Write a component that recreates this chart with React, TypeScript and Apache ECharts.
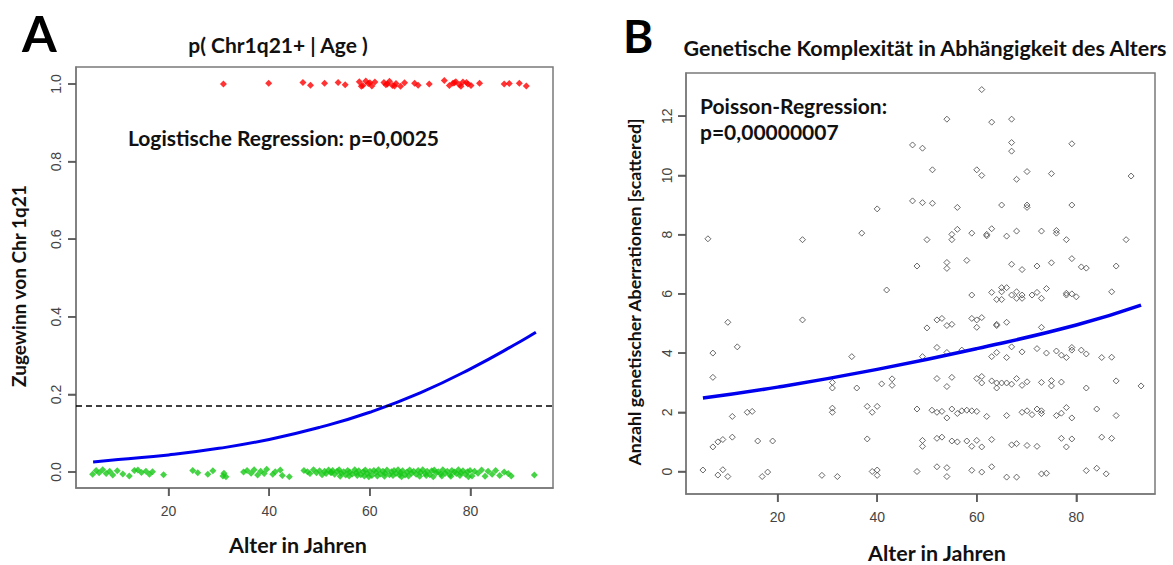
import React, { useEffect, useRef } from "react";
import * as echarts from "echarts";

// ---- Panel A data ----
const xTicks = [20, 40, 60, 80];
const yTicksA = [0, 0.2, 0.4, 0.6, 0.8, 1.0];
const yTicksB = [0, 2, 4, 6, 8, 10, 12];

const redAges = [30.9, 39.9, 46.7, 48.2, 51.0, 53.7, 55.1, 57.9, 58.6, 59.2, 59.7, 60.4, 61.0, 58.3, 60.0,
  62.8, 63.2, 63.9, 64.5, 65.2, 66.1, 66.9, 63.5, 64.9, 68.9, 69.6, 71.8, 74.8, 75.8, 76.5, 77.1, 77.8,
  78.5, 79.5, 80.1, 76.8, 78.1, 79.2, 81.8, 86.7, 87.7, 89.7, 91.1];
const redJitter = [0.0, 0.002, 0.004, -0.003, 0.002, 0.004, -0.002, 0.006, -0.004, 0.008, 0.001, -0.005, 0.005,
  -0.006, 0.003, 0.004, -0.002, 0.007, -0.004, 0.001, -0.006, 0.003, 0.0, -0.005, 0.002, -0.003, 0.0, 0.009,
  -0.004, 0.002, 0.006, -0.002, 0.005, 0.0, -0.004, 0.003, -0.006, 0.004, 0.002, 0.0, 0.001, 0.002, -0.005];

const greenAges = [4.9, 5.6, 6.2, 6.9, 7.6, 8.3, 8.9, 9.8, 10.9, 12.2, 13.2, 13.9, 14.6, 15.5, 16.2, 16.8, 19.0,
  24.8, 25.8, 27.8, 28.8, 30.8, 31.0, 31.4,
  34.9, 35.6, 36.4, 37.0, 37.7, 38.3, 39.0, 39.5, 40.7, 41.2, 42.2, 42.6, 44.0,
  46.9, 47.6, 48.1, 48.8, 49.4, 50.0, 50.5, 51.0, 51.3, 51.8, 52.2, 52.6, 53.0, 53.5, 53.9, 54.3, 54.8, 55.2,
  55.6, 56.0, 56.5, 57.0, 57.3, 57.8, 58.2, 58.7, 59.1, 59.5, 60.0, 60.4, 60.8, 61.2, 61.7, 62.1, 62.6, 63.0,
  63.4, 63.9, 64.3, 64.8, 65.2, 65.6, 66.1, 66.5, 67.0, 67.4, 67.9, 68.3, 68.7, 69.2, 69.6, 70.1, 70.5, 71.0,
  71.4, 71.9, 72.3, 72.8, 73.2, 73.6, 74.1, 74.5, 75.0, 75.4, 75.9, 76.3, 76.8, 77.2, 77.6, 78.1, 78.5, 79.0,
  79.4, 79.9, 80.3, 80.8, 81.5, 82.2, 82.9, 83.5, 84.3, 85.0, 85.8, 86.7, 87.5, 88.1, 92.7,
  52.4, 54.1, 55.9, 57.5, 59.8, 61.5, 62.9, 64.6, 66.3, 67.7, 69.9, 71.2, 72.6, 74.3, 76.1, 77.9, 79.6, 58.9, 65.9, 70.8];
const greenJitter = [-0.006, 0.004, -0.002, 0.006, -0.004, 0.002, -0.008, 0.003, -0.005, -0.010, 0.004, 0.005, -0.001,
  0.002, -0.006, 0.001, -0.007, 0.004, -0.002, -0.006, 0.003, -0.010, -0.003, -0.012, 0.0, 0.004, -0.003, 0.006,
  -0.008, 0.002, -0.004, 0.007, -0.006, 0.001, 0.005, -0.009, -0.012, 0.004, 0.001, -0.004, 0.006, -0.002, 0.003,
  -0.007, 0.002, -0.004, 0.005, -0.001, 0.004, -0.006, 0.002, 0.006, -0.003, 0.001, -0.008, 0.004, 0.0, -0.005,
  0.006, -0.002, 0.003, -0.007, 0.001, 0.005, -0.004, 0.002, -0.009, 0.004, -0.001, 0.006, -0.005, 0.002, -0.003,
  0.005, -0.007, 0.001, 0.004, -0.004, 0.006, -0.002, 0.003, -0.008, 0.0, 0.005, -0.003, 0.002, -0.006, 0.004,
  -0.001, 0.006, -0.004, 0.002, -0.007, 0.003, 0.005, -0.002, 0.001, -0.005, 0.006, -0.003, 0.002, -0.008, 0.004,
  0.0, -0.004, 0.006, -0.002, 0.003, -0.006, 0.001, 0.004, -0.010, 0.002, -0.003, 0.005, -0.011, 0.002, -0.006,
  0.004, -0.009, 0.0, -0.004, -0.010, -0.008, -0.001, -0.011, -0.010, -0.009, -0.012, -0.010, -0.011, -0.009,
  -0.012, -0.010, -0.011, -0.009, -0.012, -0.010, -0.011, -0.009, -0.012, -0.010, -0.008];

const logitAges = [5, 10, 20, 30, 40, 50, 60, 70, 80, 90, 93];
const logitP = [0.026, 0.032, 0.044, 0.061, 0.084, 0.115, 0.154, 0.204, 0.266, 0.337, 0.36];
const threshold = 0.17;

// ---- Panel B data ----
const poissonAges = [5, 20, 40, 60, 80, 93];
const poissonFit = [2.48, 2.85, 3.45, 4.15, 4.95, 5.62];

const complexityPoints: [number, number][] = [
  [61.0, 12.9], [54.0, 11.9], [63.0, 11.8], [67.0, 11.9], [47.1, 11.03], [49.1, 10.92], [67.0, 11.11], [67.0, 10.82],
  [79.1, 11.07], [51.1, 10.19], [60.0, 10.19], [61.0, 10.0], [68.0, 9.87], [70.1, 10.13], [75.0, 10.06], [91.0, 9.98],
  [40.0, 8.87], [47.1, 9.14], [49.1, 9.08], [51.1, 9.06], [56.1, 8.92], [65.0, 9.0], [70.1, 9.0], [70.1, 8.92], [79.1, 9.0],
  [6.0, 7.86], [25.0, 7.83], [36.9, 8.05], [50.0, 7.83], [55.0, 8.01], [55.0, 7.83], [56.1, 8.18], [59.0, 8.05],
  [62.0, 8.01], [62.0, 7.96], [63.0, 8.2], [66.0, 7.95], [68.0, 8.12], [73.0, 8.12], [76.0, 8.14], [76.0, 8.05],
  [78.0, 7.83], [90.0, 7.83],
  [48.0, 6.94], [54.0, 7.06], [54.0, 6.86], [58.0, 7.13], [67.0, 7.0], [69.1, 6.82], [72.1, 6.94], [75.0, 7.05],
  [79.1, 7.19], [81.0, 6.91], [82.0, 6.87], [88.0, 6.94],
  [41.9, 6.13], [59.0, 5.96], [63.0, 6.05], [64.0, 5.81], [65.0, 6.21], [65.0, 6.07], [65.0, 5.81], [66.0, 6.21],
  [67.0, 5.96], [68.0, 6.07], [68.0, 5.85], [69.1, 5.96], [69.1, 5.85], [71.1, 5.96], [72.1, 6.05], [73.0, 5.85],
  [74.0, 6.18], [78.0, 5.96], [78.0, 6.02], [79.1, 6.0], [80.0, 5.9], [87.1, 6.07],
  [10.0, 5.04], [25.0, 5.12], [50.0, 4.85], [52.0, 5.12], [53.0, 5.17], [54.0, 4.93], [55.0, 4.97], [59.0, 5.17],
  [60.0, 5.12], [60.0, 4.87], [61.0, 5.2], [64.0, 4.97], [64.0, 4.93], [66.0, 5.04], [73.0, 4.87],
  [7.0, 4.0], [11.9, 4.21], [34.9, 3.88], [49.1, 3.88], [52.0, 4.19], [54.0, 4.02], [57.0, 4.1], [63.0, 3.88],
  [64.0, 4.02], [66.0, 3.85], [67.0, 4.21], [69.1, 4.04], [72.1, 4.15], [74.0, 4.0], [76.0, 4.07], [77.0, 3.93],
  [78.0, 3.85], [79.1, 4.19], [79.1, 4.1], [81.0, 4.1], [82.0, 3.97], [85.1, 3.85], [87.1, 3.86],
  [7.0, 3.18], [31.0, 3.01], [31.0, 2.82], [35.9, 2.82], [40.9, 2.96], [43.0, 3.13], [43.0, 2.91], [52.0, 3.14],
  [54.0, 2.87], [55.0, 3.18], [60.0, 3.14], [61.0, 3.21], [61.0, 2.99], [63.0, 3.06], [64.0, 2.99], [64.0, 2.82],
  [65.0, 2.99], [66.0, 2.99], [67.0, 2.95], [68.0, 3.14], [69.1, 2.91], [70.1, 3.03], [73.0, 3.01], [75.0, 3.07],
  [75.0, 2.89], [77.0, 3.02], [82.0, 2.82], [88.0, 3.06], [93.0, 2.89],
  [10.9, 1.86], [13.9, 2.0], [14.9, 2.03], [31.0, 2.14], [31.0, 2.0], [38.0, 2.2], [39.0, 2.0], [40.0, 2.2],
  [48.0, 2.11], [51.0, 2.07], [52.0, 2.0], [53.0, 2.03], [54.0, 1.81], [55.0, 2.11], [56.1, 1.96], [57.0, 2.05],
  [58.0, 2.07], [59.0, 2.05], [60.0, 2.03], [62.0, 1.86], [66.0, 1.89], [69.1, 2.0], [70.1, 2.05], [71.1, 1.92],
  [72.1, 2.11], [73.0, 2.05], [73.0, 1.96], [76.0, 1.89], [77.0, 1.97], [78.0, 2.16], [79.1, 1.81], [84.1, 2.11],
  [88.0, 1.89],
  [7.0, 0.83], [8.0, 1.0], [9.0, 1.08], [10.9, 1.16], [16.0, 1.03], [19.0, 1.03], [38.0, 1.1], [49.1, 1.05],
  [49.1, 0.85], [52.0, 1.12], [53.0, 1.16], [55.0, 1.03], [56.1, 1.0], [58.0, 1.03], [59.0, 0.85], [60.0, 1.05],
  [61.0, 0.83], [63.0, 1.08], [67.0, 0.9], [68.0, 0.94], [70.1, 0.88], [72.1, 0.85], [77.0, 1.12], [78.0, 0.83],
  [79.1, 1.1], [85.1, 1.16], [87.1, 1.12],
  [5.0, 0.05], [8.0, -0.12], [9.0, 0.06], [10.0, -0.17], [16.9, -0.17], [18.0, -0.02], [28.9, -0.13], [32.0, -0.17],
  [39.0, 0.0], [40.0, 0.05], [40.0, -0.13], [48.0, 0.0], [52.0, 0.16], [54.0, 0.13], [54.0, -0.17], [59.0, 0.04],
  [61.0, -0.02], [63.0, 0.16], [66.0, -0.19], [68.0, -0.19], [73.0, -0.08], [74.0, -0.06], [82.0, 0.03],
  [84.1, 0.11], [86.0, -0.08],
];

const BOLD = "Lato, 'Open Sans', sans-serif";
const TICKFONT = "'Liberation Sans', Arial, sans-serif";
const AXIS_GRAY = "#7a7a7a";
const TICK_GRAY = "#555";
const TICK_LEN = 8;

// axis ranges (R's 4% extension)
const xRangeA = [1.6, 96.4];
const yRangeA = [-0.0412, 1.0438];
const xRangeB = [1.6, 95.8];
const yRangeB = [-0.76, 13.46];

export default function App() {
  const ref = useRef<HTMLDivElement>(null);
  useEffect(() => {
    if (!ref.current) return;
    const chart = echarts.init(ref.current, undefined, { renderer: "svg" });

    const xAxisCommon = (gridIndex: number, range: number[]) => ({
      gridIndex,
      type: "value" as const,
      min: range[0],
      max: range[1],
      splitLine: { show: false },
      axisLine: { show: true, onZero: false, lineStyle: { color: AXIS_GRAY, width: 1.5 } },
      axisTick: { show: true, customValues: xTicks, length: TICK_LEN, lineStyle: { color: TICK_GRAY, width: 1.5 } },
      axisLabel: { customValues: xTicks, margin: 16, fontSize: 14, color: "#444", fontFamily: TICKFONT },
    });

    const redData = redAges.map((a, i) => [a, 1 + redJitter[i]]);
    const greenData = greenAges.map((a, i) => [a, greenJitter[i]]);
    const logitData = logitAges.map((a, i) => [a, logitP[i]]);
    const poissonData = poissonAges.map((a, i) => [a, poissonFit[i]]);

    // tick-mark series: small rects anchored on the axis edges through the axis scales
    const xTickSeries = (idx: number, yMin: number) => ({
      type: "scatter",
      xAxisIndex: idx,
      yAxisIndex: idx,
      data: xTicks.map((v) => [v, yMin]),
      symbol: "rect",
      symbolSize: [1.5, TICK_LEN],
      symbolOffset: [0, TICK_LEN / 2],
      itemStyle: { color: TICK_GRAY },
      clip: false,
      silent: true,
      z: 10,
    });
    const yTickSeries = (idx: number, xMin: number, vals: number[]) => ({
      type: "scatter",
      xAxisIndex: idx,
      yAxisIndex: idx,
      data: vals.map((v) => [xMin, v]),
      symbol: "rect",
      symbolSize: [TICK_LEN, 1.5],
      symbolOffset: [-TICK_LEN / 2, 0],
      itemStyle: { color: TICK_GRAY },
      clip: false,
      silent: true,
      z: 10,
    });

    const textGraphics: any[] = [
      { type: "text", left: 22, top: 8, style: { text: "A", font: `bold 50px ${BOLD}`, fill: "#000" } },
      { type: "text", left: 623, top: 12, style: { text: "B", font: `bold 46px ${BOLD}`, fill: "#000" } },
      {
        type: "text", x: 278, y: 44,
        style: { text: "p( Chr1q21+ | Age )", font: `bold 21px ${BOLD}`, fill: "#111", align: "center", verticalAlign: "middle" },
      },
      {
        type: "text", x: 925, y: 48,
        style: { text: "Genetische Komplexität in Abhängigkeit des Alters", font: `bold 21.5px ${BOLD}`, fill: "#111", align: "center", verticalAlign: "middle" },
      },
      {
        type: "text", x: 128, y: 137,
        style: { text: "Logistische Regression: p=0,0025", font: `bold 21px ${BOLD}`, fill: "#111", align: "left", verticalAlign: "middle" },
      },
      {
        type: "text", x: 700, y: 105,
        style: { text: "Poisson-Regression:", font: `bold 21px ${BOLD}`, fill: "#111", align: "left", verticalAlign: "middle" },
      },
      {
        type: "text", x: 700, y: 131,
        style: { text: "p=0,00000007", font: `bold 21px ${BOLD}`, fill: "#111", align: "left", verticalAlign: "middle" },
      },
      {
        type: "text", x: 298, y: 545,
        style: { text: "Alter in Jahren", font: `bold 21.5px ${BOLD}`, fill: "#111", align: "center", verticalAlign: "middle" },
      },
      {
        type: "text", x: 937, y: 553,
        style: { text: "Alter in Jahren", font: `bold 21.5px ${BOLD}`, fill: "#111", align: "center", verticalAlign: "middle" },
      },
      {
        type: "text", x: 18, y: 286, rotation: Math.PI / 2,
        style: { text: "Zugewinn von Chr 1q21", font: `bold 19px ${BOLD}`, fill: "#111", align: "center", verticalAlign: "middle" },
      },
      {
        type: "text", x: 634, y: 292, rotation: Math.PI / 2,
        style: { text: "Anzahl genetischer Aberrationen [scattered]", font: `bold 17.8px ${BOLD}`, fill: "#111", align: "center", verticalAlign: "middle" },
      },
    ];

    const option: any = {
      animation: false,
      backgroundColor: "#ffffff",
      grid: [
        { left: 76, top: 67, width: 477, height: 421, show: true, borderColor: AXIS_GRAY, borderWidth: 1.5 },
        { left: 686, top: 73, width: 469, height: 421, show: true, borderColor: AXIS_GRAY, borderWidth: 1.5 },
      ],
      xAxis: [xAxisCommon(0, xRangeA), xAxisCommon(1, xRangeB)],
      yAxis: [
        {
          gridIndex: 0,
          type: "value",
          min: yRangeA[0],
          max: yRangeA[1],
          splitLine: { show: false },
          axisLine: { show: true, onZero: false, lineStyle: { color: AXIS_GRAY, width: 1.5 } },
          axisTick: { show: true, customValues: yTicksA, length: TICK_LEN, lineStyle: { color: TICK_GRAY, width: 1.5 } },
          axisLabel: {
            customValues: yTicksA,
            rotate: 90,
            margin: 13,
            fontSize: 14,
            color: "#444",
            fontFamily: TICKFONT,
            formatter: (v: number) => v.toFixed(1),
          },
        },
        {
          gridIndex: 1,
          type: "value",
          min: yRangeB[0],
          max: yRangeB[1],
          splitLine: { show: false },
          axisLine: { show: true, onZero: false, lineStyle: { color: AXIS_GRAY, width: 1.5 } },
          axisTick: { show: true, customValues: yTicksB, length: TICK_LEN, lineStyle: { color: TICK_GRAY, width: 1.5 } },
          axisLabel: {
            customValues: yTicksB,
            rotate: 90,
            margin: 12,
            fontSize: 14,
            color: "#444",
            fontFamily: TICKFONT,
          },
        },
      ],
      series: [
        {
          type: "scatter",
          xAxisIndex: 0,
          yAxisIndex: 0,
          data: greenData,
          symbol: "diamond",
          symbolSize: 7,
          itemStyle: { color: "#18c818" },
          markLine: {
            silent: true,
            symbol: "none",
            label: { show: false },
            lineStyle: { color: "#000", type: [6, 4], width: 1.5 },
            data: [{ yAxis: threshold }],
          },
        },
        {
          type: "scatter",
          xAxisIndex: 0,
          yAxisIndex: 0,
          data: redData,
          symbol: "diamond",
          symbolSize: 7,
          itemStyle: { color: "#ff0000" },
        },
        {
          type: "line",
          xAxisIndex: 0,
          yAxisIndex: 0,
          data: logitData,
          smooth: true,
          showSymbol: false,
          lineStyle: { color: "#0000ee", width: 3 },
        },
        {
          type: "scatter",
          xAxisIndex: 1,
          yAxisIndex: 1,
          data: complexityPoints,
          symbol: "diamond",
          symbolSize: 6,
          itemStyle: { color: "rgba(0,0,0,0)", borderColor: "#444", borderWidth: 1 },
        },
        {
          type: "line",
          xAxisIndex: 1,
          yAxisIndex: 1,
          data: poissonData,
          smooth: true,
          showSymbol: false,
          lineStyle: { color: "#0000ee", width: 3.5 },
        },
        xTickSeries(0, yRangeA[0]),
        yTickSeries(0, xRangeA[0], yTicksA),
        xTickSeries(1, yRangeB[0]),
        yTickSeries(1, xRangeB[0], yTicksB),
      ],
      graphic: textGraphics,
    };

    chart.setOption(option);
    return () => chart.dispose();
  }, []);

  return (
    <div
      ref={ref}
      style={{ position: "absolute", left: 0, top: 0, width: 1173, height: 565, background: "#fff" }}
    />
  );
}
